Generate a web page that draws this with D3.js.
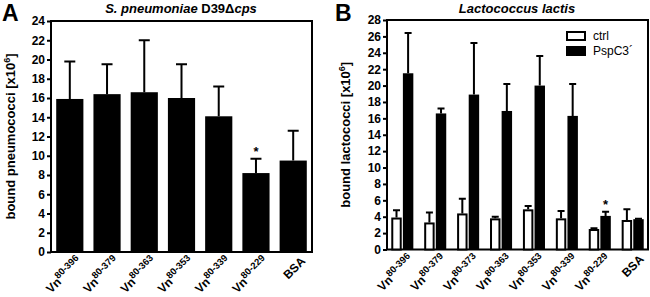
<!DOCTYPE html>
<html>
<head>
<meta charset="utf-8">
<script src="https://cdn.jsdelivr.net/npm/d3@7"></script>
<style>
  body { margin: 0; background: #fff; }
  svg { display: block; font-family: "Liberation Sans", Arial, sans-serif; font-weight: bold; }
</style>
</head>
<body>
<svg width="650" height="297"></svg>
<script>
// panel A data
var catsA = ["80-396", "80-379", "80-363", "80-353", "80-339", "80-229", "BSA"];
var meanA = [15.9, 16.4, 16.6, 16.0, 14.1, 8.2, 9.5];
var errA = [19.8, 19.5, 22.0, 19.5, 17.2, 9.7, 12.6];
var starA = ["80-229"];
var ticksA = [0, 2, 4, 6, 8, 10, 12, 14, 16, 18, 20, 22, 24];

// panel B data
var catsB = ["80-396", "80-379", "80-373", "80-363", "80-353", "80-339", "80-229", "BSA"];
var ctrlB = [3.9, 3.3, 4.4, 3.8, 4.9, 3.8, 2.5, 3.6];
var ctrlErrB = [4.8, 4.5, 6.2, 4.0, 5.3, 4.7, 2.6, 4.9];
var pspcB = [21.5, 16.6, 18.9, 16.9, 20.0, 16.3, 4.1, 3.7];
var pspcErrB = [26.4, 17.2, 25.2, 20.2, 23.6, 20.2, 4.6, 3.75];
var starB = ["80-229"];
var ticksB = [0, 2, 4, 6, 8, 10, 12, 14, 16, 18, 20, 22, 24, 26, 28];
var seriesB = ["ctrl", "PspC3\u00b4"];

var svg = d3.select("svg");

// rotated category labels (Vn + superscript range)
function catLabels(g, cats, xpos, y) {
  g.selectAll("text.cat").data(cats).join("text")
    .attr("class", "cat")
    .attr("transform", function(d) { return "translate(" + xpos(d) + "," + y + ") rotate(-45)"; })
    .attr("text-anchor", "end").attr("dy", "0.7em").attr("font-size", 12)
    .each(function(d) {
      var t = d3.select(this);
      if (d === "BSA") { t.text("BSA"); return; }
      t.append("tspan").text("Vn");
      t.append("tspan").attr("font-size", 9.5).attr("dy", -5).text(d);
    });
}

function frame(g, x0, x1, y, yTicks, label, cx) {
  g.append("rect")
    .attr("x", x0).attr("y", y.range()[1])
    .attr("width", x1 - x0).attr("height", y.range()[0] - y.range()[1])
    .attr("fill", "none").attr("stroke", "#000").attr("stroke-width", 2);
  var ax = g.append("g").attr("transform", "translate(" + x0 + ",0)")
    .call(d3.axisLeft(y).tickValues(yTicks).tickSize(4).tickPadding(2));
  ax.select(".domain").remove();
  ax.selectAll(".tick line").attr("stroke-width", 2);
  ax.selectAll(".tick text").attr("font-size", 12).attr("font-family", null).attr("font-weight", "bold").attr("fill", "#000");
  var t = g.append("text")
    .attr("transform", "translate(" + cx + "," + (y.range()[0] + y.range()[1]) / 2 + ") rotate(-90)")
    .attr("text-anchor", "middle").attr("font-size", 13);
  t.append("tspan").text(label);
  t.append("tspan").attr("font-size", 9).attr("dy", -5).text("6");
  t.append("tspan").attr("dy", 5).text("]");
}

// ---------- Panel A ----------
var gA = svg.append("g");
var yA = d3.scaleLinear().domain([0, 24]).range([252, 21]);
var xA = d3.scaleBand().domain(catsA).range([51, 312]).paddingInner(0.27).paddingOuter(0.14);

frame(gA, 51, 312, yA, ticksA, "bound pneumococci [x10", 15);

gA.selectAll("path.errA").data(catsA).join("path")
  .attr("class", "errA")
  .attr("d", function(d, i) {
    var c = xA(d) + xA.bandwidth() / 2;
    return "M" + c + "," + yA(meanA[i]) + "V" + yA(errA[i]) + "M" + (c - 5.5) + "," + yA(errA[i]) + "H" + (c + 5.5);
  })
  .attr("stroke", "#000").attr("stroke-width", 2).attr("fill", "none");

gA.selectAll("rect.barA").data(catsA).join("rect")
  .attr("class", "barA")
  .attr("x", function(d) { return xA(d); })
  .attr("y", function(d, i) { return yA(meanA[i]); })
  .attr("width", xA.bandwidth())
  .attr("height", function(d, i) { return yA(0) - yA(meanA[i]); })
  .attr("fill", "#000");

gA.selectAll("text.starA").data(starA).join("text")
  .attr("class", "starA")
  .attr("x", function(d) { return xA(d) + xA.bandwidth() / 2; })
  .attr("y", function(d) { return yA(errA[catsA.indexOf(d)]) - 3; })
  .attr("text-anchor", "middle").attr("font-size", 13).text("*");

catLabels(gA, catsA, function(d) { return xA(d) + xA.bandwidth() / 2 + 7; }, 256);

gA.append("text").attr("x", 2).attr("y", 21).attr("font-size", 23).text("A");
var tA = gA.append("text").attr("x", 181).attr("y", 13).attr("text-anchor", "middle").attr("font-size", 13);
tA.append("tspan").attr("font-style", "italic").text("S. pneumoniae");
tA.append("tspan").text(" D39\u0394");
tA.append("tspan").attr("font-style", "italic").text("cps");

// ---------- Panel B ----------
var gB = svg.append("g");
var yB = d3.scaleLinear().domain([0, 28]).range([249.5, 20]);
var xB = d3.scaleBand().domain(catsB).range([387, 648]).paddingInner(0.33).paddingOuter(0.13);
var xSub = d3.scaleBand().domain([0, 1]).range([0, xB.bandwidth()]).paddingInner(0.1);

frame(gB, 387, 648, yB, ticksB, "bound lactococci [x10", 350);

var barsB = [];
catsB.forEach(function(c, i) {
  barsB.push({ cat: c, s: 0, v: ctrlB[i], e: ctrlErrB[i] });
  barsB.push({ cat: c, s: 1, v: pspcB[i], e: pspcErrB[i] });
});

gB.selectAll("path.errB").data(barsB).join("path")
  .attr("class", "errB")
  .attr("d", function(d) {
    var c = xB(d.cat) + xSub(d.s) + xSub.bandwidth() / 2;
    return "M" + c + "," + yB(d.v) + "V" + yB(d.e) + "M" + (c - 3.5) + "," + yB(d.e) + "H" + (c + 3.5);
  })
  .attr("stroke", "#000").attr("stroke-width", 2).attr("fill", "none");

gB.selectAll("rect.barB").data(barsB).join("rect")
  .attr("class", "barB")
  .attr("x", function(d) { return xB(d.cat) + xSub(d.s) + (d.s ? 0 : 1); })
  .attr("y", function(d) { return yB(d.v) + (d.s ? 0 : 1); })
  .attr("width", function(d) { return xSub.bandwidth() - (d.s ? 0 : 2); })
  .attr("height", function(d) { return yB(0) - yB(d.v) - (d.s ? 0 : 1); })
  .attr("fill", function(d) { return d.s ? "#000" : "#fff"; })
  .attr("stroke", "#000").attr("stroke-width", function(d) { return d.s ? 0 : 2; });

gB.selectAll("text.starB").data(starB).join("text")
  .attr("class", "starB")
  .attr("x", function(d) { return xB(d) + xSub(1) + xSub.bandwidth() / 2; })
  .attr("y", function(d) { return yB(pspcErrB[catsB.indexOf(d)]) - 3; })
  .attr("text-anchor", "middle").attr("font-size", 13).text("*");

catLabels(gB, catsB, function(d) { return xB(d) + xB.bandwidth() / 2 + 6; }, 254);

// legend
var leg = gB.selectAll("g.leg").data(seriesB).join("g")
  .attr("class", "leg")
  .attr("transform", function(d, i) { return "translate(566," + (31 + i * 15) + ")"; });
leg.append("rect")
  .attr("x", 1).attr("y", 1).attr("width", 18).attr("height", 8)
  .attr("fill", function(d, i) { return i ? "#000" : "#fff"; })
  .attr("stroke", "#000").attr("stroke-width", 2);
leg.append("text").attr("x", 27).attr("y", 9).attr("font-size", 12).attr("font-weight", "normal").text(function(d) { return d; });

gB.append("text").attr("x", 335).attr("y", 21).attr("font-size", 23).text("B");
gB.append("text").attr("x", 517).attr("y", 13).attr("text-anchor", "middle")
  .attr("font-size", 13).attr("font-style", "italic").text("Lactococcus lactis");
</script>
</body>
</html>
